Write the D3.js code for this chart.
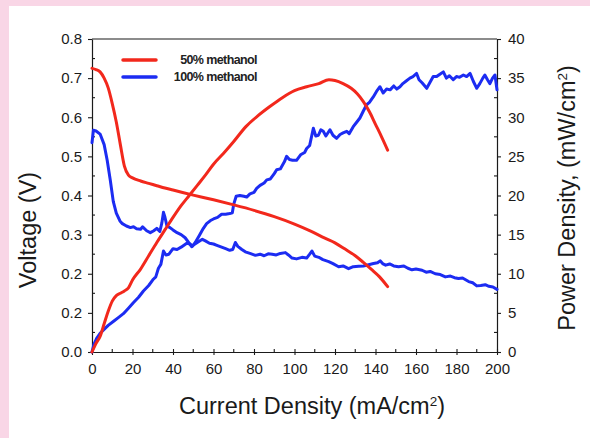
<!DOCTYPE html>
<html>
<head>
<meta charset="utf-8">
<script src="https://cdn.jsdelivr.net/npm/d3@7/dist/d3.min.js"></script>
<style>
  html, body { margin: 0; padding: 0; background: #f9d6e6; }
  svg { display: block; }
</style>
</head>
<body>
<svg id="chart" width="590" height="438"></svg>
<script>
// Current density (mA/cm2) vs. cell voltage (V) and power density (mW/cm2)
const xTicks = [0, 20, 40, 60, 80, 100, 120, 140, 160, 180, 200];
const voltTicks = [0, 0.1, 0.2, 0.3, 0.4, 0.5, 0.6, 0.7, 0.8];
const voltTickLabels = ["0.0", "0.2", "0.2", "0.3", "0.4", "0.5", "0.6", "0.7", "0.8"];
const powerTicks = [0, 5, 10, 15, 20, 25, 30, 35, 40];
const seriesNames = ["50% methanol", "100% methanol"];
const seriesColors = ["#f2281c", "#1c2cf2"];

// 50% methanol, voltage
const volt50 = [
  [0, 0.725], [2, 0.722], [4, 0.716], [6, 0.700], [8, 0.675], [10, 0.635], [12, 0.588],
  [14, 0.530], [16, 0.475], [18, 0.452], [20, 0.445], [24, 0.437], [28, 0.431], [32, 0.425],
  [36, 0.419], [40, 0.414], [50, 0.401], [60, 0.389], [70, 0.376], [80, 0.362], [90, 0.346],
  [100, 0.327], [108, 0.309], [115, 0.291], [120, 0.279], [125, 0.263], [130, 0.246],
  [134, 0.229], [138, 0.211], [142, 0.192], [146, 0.167]
];

// 50% methanol, power density
const power50 = [
  [0, 0], [2, 1.1], [4, 2.0], [6, 3.6], [8, 5.2], [10, 6.5], [12, 7.2], [14, 7.5],
  [16, 7.8], [18, 8.2], [20, 9.2], [24, 10.6], [28, 12.3], [32, 14.0], [36, 15.6],
  [40, 17.2], [44, 18.7], [48, 20.0], [52, 21.3], [56, 22.6], [60, 24.0], [65, 25.4],
  [70, 26.9], [76, 28.8], [82, 30.2], [88, 31.4], [94, 32.5], [100, 33.4], [106, 33.9],
  [112, 34.3], [117, 34.8], [120, 34.7], [124, 34.3], [128, 33.7], [131, 33.0],
  [134, 32.0], [137, 30.7], [140, 29.1], [143, 27.5], [146, 25.8]
];

// 100% methanol, voltage
const volt100 = [
  [0, 0.535], [0.7, 0.567], [2, 0.565], [4, 0.557], [6, 0.530], [7.5, 0.490], [9, 0.440],
  [10.5, 0.385], [12, 0.355], [13.8, 0.335], [15, 0.328], [17, 0.322], [19, 0.318],
  [20.5, 0.320], [22, 0.315], [24, 0.314], [25, 0.320], [27, 0.310], [28.8, 0.305],
  [30.5, 0.310], [32, 0.316], [33.5, 0.308], [34.5, 0.330], [35.3, 0.357], [36, 0.345],
  [37, 0.322], [38.5, 0.318], [40, 0.312], [42, 0.305], [44, 0.300], [46, 0.292],
  [47.7, 0.280], [49.2, 0.269], [50.5, 0.275], [52, 0.280], [54.5, 0.288], [56, 0.284],
  [58, 0.278], [60, 0.276], [62, 0.272], [64, 0.268], [66, 0.264], [68, 0.260],
  [69.5, 0.262], [70.8, 0.280], [72, 0.270], [74, 0.262], [75.7, 0.256], [78, 0.252],
  [80.7, 0.247], [83, 0.250], [85, 0.246], [87, 0.251], [89, 0.250], [91, 0.248],
  [93, 0.252], [95.5, 0.254], [97, 0.248], [98.8, 0.240], [101, 0.238], [103.7, 0.242],
  [106, 0.240], [107.5, 0.250], [108.6, 0.258], [110, 0.245], [112, 0.242], [114, 0.236],
  [116.9, 0.231], [119, 0.226], [121.8, 0.218], [124, 0.220], [126.7, 0.213], [129, 0.218],
  [131.7, 0.219], [134, 0.220], [136.6, 0.223], [139, 0.226], [141, 0.228], [142.3, 0.233],
  [143.5, 0.226], [145, 0.222], [147, 0.225], [149, 0.220], [151.4, 0.218], [154, 0.220],
  [156, 0.214], [158, 0.210], [160, 0.212], [163, 0.209], [165, 0.204], [167, 0.206],
  [169.5, 0.200], [172, 0.198], [174.5, 0.192], [177, 0.194], [179, 0.190], [181, 0.188],
  [183, 0.189], [186, 0.180], [188, 0.177], [190, 0.169], [192, 0.170], [194.2, 0.172],
  [196, 0.168], [198, 0.166], [200, 0.160]
];

// 100% methanol, power density
const power100 = [
  [0, 0], [1, 1.0], [2.3, 1.75], [4, 2.4], [5.6, 2.8], [8, 3.4], [10.5, 3.9], [13, 4.4],
  [15.5, 4.9], [18, 5.6], [20.4, 6.3], [23, 7.0], [25.4, 7.8], [28, 8.5], [30.3, 9.3],
  [31.5, 9.6], [32.8, 10.7], [34, 11.2], [35.3, 12.9], [36.5, 12.4], [38, 12.5],
  [40, 13.2], [42, 13.1], [44, 13.4], [46.8, 13.9], [48.5, 13.8], [49.5, 13.5], [51, 14.0],
  [53, 14.9], [55, 15.8], [56.6, 16.4], [58.5, 16.8], [60, 17.0], [62, 17.2], [64, 17.6],
  [66, 17.6], [68, 17.7], [69.3, 17.8], [70, 18.9], [71.2, 19.9], [73, 20.0], [75, 19.9],
  [76.4, 19.8], [78, 20.2], [80, 20.4], [81.3, 20.9], [83, 21.3], [85, 21.6], [86.3, 22.0],
  [88, 22.1], [90, 22.8], [91.2, 23.3], [93, 23.4], [95, 24.3], [96.1, 25.0], [97.5, 24.6],
  [99, 24.5], [101, 24.5], [103, 25.2], [105, 25.5], [106, 26.0], [107.5, 26.4],
  [109.3, 28.6], [110.5, 27.6], [111.8, 27.7], [113, 28.4], [114.2, 28.2], [115.5, 27.6],
  [117.5, 28.4], [119, 27.7], [120.8, 27.3], [122.5, 27.8], [124, 28.0], [125.8, 28.2],
  [127, 27.9], [129, 28.8], [130.5, 29.3], [132.3, 29.9], [134, 30.8], [135.6, 31.6],
  [137, 31.9], [138.9, 32.6], [140.5, 33.3], [142.2, 33.9], [143.8, 33.1], [145.5, 33.6],
  [147.2, 33.5], [149, 34.0], [150.5, 33.6], [152.1, 33.9], [153.5, 34.3], [155, 34.6],
  [157, 35.0], [158.5, 35.2], [160.3, 35.6], [161.5, 34.8], [163, 34.4], [165.3, 33.7],
  [166.8, 34.4], [168.5, 35.2], [170.2, 35.2], [171.8, 35.5], [173.5, 35.8], [175, 35.0],
  [176.5, 35.3], [178.4, 34.8], [180, 35.2], [181.5, 35.1], [183.4, 35.4], [185, 35.2],
  [186.7, 35.6], [188.3, 34.6], [190, 33.7], [191.5, 34.3], [193, 35.0], [194, 35.4],
  [195.3, 34.8], [196.5, 34.3], [197.8, 35.0], [199, 35.4], [200, 33.5]
];

const svg = d3.select("#chart");
const W = 590, H = 438;
const m = { left: 92, right: 497, top: 39, bottom: 352 };
const font = "'Liberation Sans', Arial, Helvetica, sans-serif";
const ink = "#1a1a1a";

// white panel over the pink page
svg.append("rect").attr("x", 9).attr("y", 6).attr("width", W - 9).attr("height", H - 6)
  .attr("fill", "#ffffff");

const x = d3.scaleLinear().domain([0, 200]).range([m.left, m.right]);
const yV = d3.scaleLinear().domain([0, 0.8]).range([m.bottom, m.top]);
const yP = d3.scaleLinear().domain([0, 40]).range([m.bottom, m.top]);

// frame
svg.append("line").attr("x1", m.left).attr("x2", m.right).attr("y1", m.top).attr("y2", m.top)
  .attr("stroke", ink).attr("stroke-width", 1.2);

// axes
function styleAxis(g) {
  g.select(".domain").attr("stroke", ink).attr("stroke-width", 1.2);
  g.selectAll(".tick line").attr("stroke", ink).attr("stroke-width", 1.1);
  g.selectAll(".tick text").attr("fill", ink).attr("font-family", font).attr("font-size", 15);
}

const xAxis = svg.append("g").attr("transform", `translate(0,${m.bottom})`)
  .call(d3.axisBottom(x).tickValues(xTicks).tickSize(3).tickPadding(8).tickSizeOuter(0)
    .tickFormat(d3.format("d")));
styleAxis(xAxis);
xAxis.selectAll(".tick line").attr("y1", -3);
// minor x ticks, pointing inward
svg.append("g").selectAll("line").data(d3.range(10, 200, 20)).join("line")
  .attr("x1", d => x(d)).attr("x2", d => x(d))
  .attr("y1", m.bottom).attr("y2", m.bottom - 3)
  .attr("stroke", ink).attr("stroke-width", 1.1);

const yLeft = svg.append("g").attr("transform", `translate(${m.left},0)`)
  .call(d3.axisLeft(yV).tickValues(voltTicks).tickSize(4).tickPadding(6).tickSizeOuter(0)
    .tickFormat((d, i) => voltTickLabels[i]));
styleAxis(yLeft);
svg.append("g").selectAll("line").data(d3.range(0.05, 0.8, 0.1)).join("line")
  .attr("x1", m.left).attr("x2", m.left + 3)
  .attr("y1", d => yV(d)).attr("y2", d => yV(d))
  .attr("stroke", ink).attr("stroke-width", 1.1);

const yRight = svg.append("g").attr("transform", `translate(${m.right},0)`)
  .call(d3.axisRight(yP).tickValues(powerTicks).tickSize(4).tickPadding(7).tickSizeOuter(0)
    .tickFormat(d3.format("d")));
styleAxis(yRight);
svg.append("g").selectAll("line").data(d3.range(2.5, 40, 5)).join("line")
  .attr("x1", m.right).attr("x2", m.right - 3)
  .attr("y1", d => yP(d)).attr("y2", d => yP(d))
  .attr("stroke", ink).attr("stroke-width", 1.1);

// curves
const lineV = d3.line().x(d => x(d[0])).y(d => yV(d[1]));
const lineP = d3.line().x(d => x(d[0])).y(d => yP(d[1]));
const smoothV = d3.line().x(d => x(d[0])).y(d => yV(d[1])).curve(d3.curveMonotoneX);
const smoothP = d3.line().x(d => x(d[0])).y(d => yP(d[1])).curve(d3.curveMonotoneX);

const curves = [
  { data: power100, gen: lineP, color: seriesColors[1] },
  { data: volt100, gen: lineV, color: seriesColors[1] },
  { data: power50, gen: smoothP, color: seriesColors[0] },
  { data: volt50, gen: smoothV, color: seriesColors[0] }
];
svg.append("g").selectAll("path").data(curves).join("path")
  .attr("d", c => c.gen(c.data))
  .attr("fill", "none")
  .attr("stroke", c => c.color)
  .attr("stroke-width", 3)
  .attr("stroke-linejoin", "round")
  .attr("stroke-linecap", "round");

// legend
const legend = svg.append("g");
seriesNames.forEach((name, i) => {
  const ly = 60 + i * 17;
  legend.append("line").attr("x1", 123).attr("x2", 156).attr("y1", ly).attr("y2", ly)
    .attr("stroke", seriesColors[i]).attr("stroke-width", 3.5).attr("stroke-linecap", "round");
  legend.append("text").attr("x", 257).attr("y", ly).attr("dy", "0.35em")
    .attr("text-anchor", "end").attr("font-family", font).attr("font-size", 12.5)
    .attr("font-weight", "bold").attr("letter-spacing", "-0.6px").attr("fill", "#222")
    .text(name);
});

// axis titles
const titleSize = 23.5;
const xt = svg.append("text").attr("x", 312).attr("y", 414)
  .attr("text-anchor", "middle").attr("font-family", font).attr("font-size", titleSize)
  .attr("fill", ink);
xt.append("tspan").text("Current Density (mA/cm");
xt.append("tspan").attr("font-size", 13.5).attr("dy", -8).text("2");
xt.append("tspan").attr("dy", 8).text(")");

svg.append("text").attr("transform", "translate(36,230) rotate(-90)")
  .attr("text-anchor", "middle").attr("font-family", font).attr("font-size", titleSize)
  .attr("fill", ink).text("Voltage (V)");

const rt = svg.append("text").attr("transform", "translate(575,198) rotate(-90)")
  .attr("text-anchor", "middle").attr("font-family", font).attr("font-size", titleSize)
  .attr("fill", ink);
rt.append("tspan").text("Power Density, (mW/cm");
rt.append("tspan").attr("font-size", 13.5).attr("dy", -8).text("2");
rt.append("tspan").attr("dy", 8).text(")");
</script>
</body>
</html>
